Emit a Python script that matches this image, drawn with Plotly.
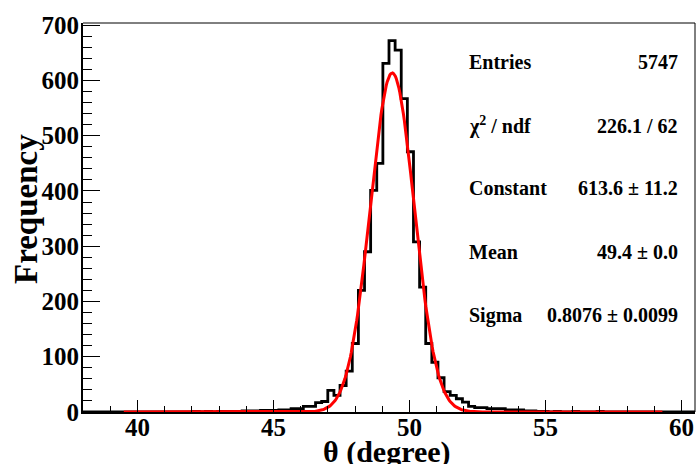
import numpy as np
import plotly.graph_objects as go

# ---- data ----
x_min, x_max = 38.0, 60.5
n_bins = 100
# bin contents (bin index -> count)
bin_counts = [0] * n_bins
count_table = {
    18: 1, 20: 1, 22: 1, 23: 1, 24: 1, 25: 1, 26: 2, 27: 2, 28: 2, 29: 3,
    30: 3, 31: 3, 32: 4, 33: 4, 34: 6, 35: 6, 36: 10, 37: 10, 38: 17, 39: 19,
    40: 39, 41: 30, 42: 48, 43: 74, 44: 124, 45: 220, 46: 290, 47: 401,
    48: 450, 49: 631, 50: 672, 51: 655, 52: 567, 53: 471, 54: 308, 55: 226,
    56: 124, 57: 90, 58: 62, 59: 37, 60: 30, 61: 24, 62: 18, 63: 10, 64: 8,
    65: 8, 66: 6, 67: 6, 68: 6, 69: 4, 70: 4, 71: 4, 72: 2, 73: 2, 74: 1,
    75: 1, 77: 1, 80: 1, 84: 1,
}
for k, v in count_table.items():
    bin_counts[k] = v

# fit parameters
fit_constant = 613.6
fit_mean = 49.37
fit_sigma = 0.8076
fit_range = (39.5, 59.3)

stat_labels = ["Entries", "χ<sup>2</sup> / ndf", "Constant", "Mean", "Sigma"]
stat_values = ["5747", "226.1 / 62", "613.6 ± 11.2", "49.4 ± 0.0", "0.8076 ± 0.0099"]

x_ticks = [40, 45, 50, 55, 60]
y_ticks = [0, 100, 200, 300, 400, 500, 600, 700]

# ---- build ----
bw = (x_max - x_min) / n_bins
edges = [x_min + i * bw for i in range(n_bins + 1)]
hist_y = list(bin_counts) + [bin_counts[-1]]

fx = np.linspace(fit_range[0], fit_range[1], 600)
fy = fit_constant * np.exp(-0.5 * ((fx - fit_mean) / fit_sigma) ** 2)

FONT = "Liberation Serif"
L, R, T, B = 83, 1, 23, 52
W, H = 696, 464
PW, PH = W - L - R, H - T - B

fig = go.Figure()
fig.add_trace(go.Scatter(x=edges, y=hist_y, mode="lines", line_shape="hv",
                         line=dict(color="black", width=2.8), hoverinfo="skip"))
fig.add_trace(go.Scatter(x=fx, y=fy, mode="lines",
                         line=dict(color="#ff0000", width=3), hoverinfo="skip"))

fig.update_layout(
    width=W, height=H,
    margin=dict(l=L, r=R, t=T, b=B, autoexpand=False),
    paper_bgcolor="white", plot_bgcolor="white",
    showlegend=False,
    font=dict(family=FONT, color="black"),
)
fig.update_xaxes(
    range=[x_min, x_max], tickvals=x_ticks, ticktext=[str(t) for t in x_ticks],
    ticks="inside", ticklen=12, tickwidth=1, tickcolor="black",
    minor=dict(dtick=1, tick0=38, ticks="inside", ticklen=6, tickcolor="black", showgrid=False),
    showline=True, linecolor="black", linewidth=2, mirror=False,
    showgrid=False, zeroline=False, automargin=False, ticklabelstandoff=-8,
    tickfont=dict(family=FONT, size=25, color="black", weight="bold"),
)
fig.update_yaxes(
    range=[0, 704], tickvals=y_ticks, ticktext=[str(t) for t in y_ticks],
    ticks="inside", ticklen=17, tickwidth=1, tickcolor="black",
    minor=dict(dtick=20, tick0=0, ticks="inside", ticklen=9, tickcolor="black", showgrid=False),
    showline=True, linecolor="black", linewidth=2, mirror=False,
    showgrid=False, zeroline=False, automargin=False, ticklabelstandoff=-3,
    tickfont=dict(family=FONT, size=25, color="black", weight="bold"),
)
# thin frame on top and right
fig.add_shape(type="line", xref="paper", yref="paper", x0=0, x1=1, y0=1, y1=1,
              line=dict(color="black", width=1))
fig.add_shape(type="line", xref="paper", yref="paper", x0=1, x1=1, y0=0, y1=1,
              line=dict(color="black", width=1))

def px_x(px):
    return (px - L) / PW

def px_y(py):
    return (H - B - py) / PH

# axis titles as annotations (pixel positions from the reference)
fig.add_annotation(x=px_x(387), y=px_y(452), xref="paper", yref="paper",
                   text="<b>θ (degree)</b>", showarrow=False, xanchor="center", yanchor="middle",
                   font=dict(family=FONT, size=30, color="black"))
fig.add_annotation(x=px_x(26), y=px_y(209), xref="paper", yref="paper",
                   text="<b>Frequency</b>", showarrow=False, xanchor="center", yanchor="middle",
                   textangle=-90, font=dict(family=FONT, size=33, color="black"))

# stats box
row_y = [62, 126, 188, 252, 315]
for lab, val, yy in zip(stat_labels, stat_values, row_y):
    fig.add_annotation(x=px_x(467), y=px_y(yy), xref="paper", yref="paper",
                       text=f"<b>{lab}</b>", showarrow=False, xanchor="left", yanchor="middle",
                       font=dict(family=FONT, size=20, color="black"))
    fig.add_annotation(x=px_x(680), y=px_y(yy), xref="paper", yref="paper",
                       text=f"<b>{val}</b>", showarrow=False, xanchor="right", yanchor="middle",
                       font=dict(family=FONT, size=20, color="black"))

fig.write_html(
    "out.html",
    config={"displayModeBar": False},
    post_script="document.body.style.margin='0';document.body.style.padding='0';document.body.style.overflow='hidden';",
)
